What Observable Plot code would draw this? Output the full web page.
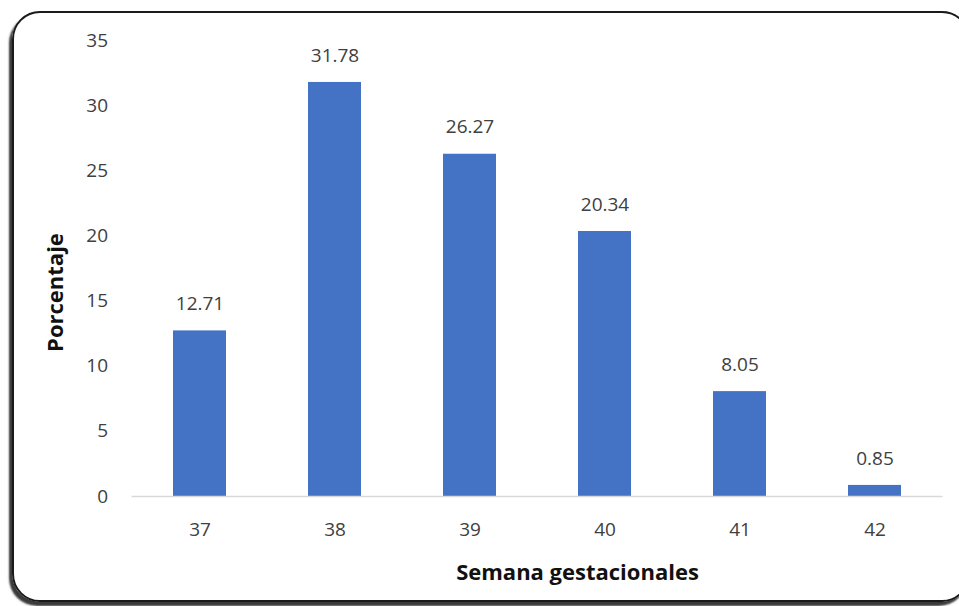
<!DOCTYPE html>
<html>
<head>
<meta charset="utf-8">
<script src="https://cdn.jsdelivr.net/npm/d3@7"></script>
<script src="https://cdn.jsdelivr.net/npm/@observablehq/plot@0.6"></script>
<style>
  html, body { margin: 0; padding: 0; background: #fff; overflow: hidden; }
  #wrap { position: relative; width: 959px; height: 606px; overflow: hidden; }
  #frame {
    position: absolute; left: 12px; top: 11px; width: 958px; height: 591px;
    border: 2px solid #1a1a1a; border-radius: 28px;
    box-shadow: -3px 4px 2px #3a3a3a;
    box-sizing: border-box;
  }
  #chart { position: absolute; left: 0; top: 0; }
</style>
</head>
<body>
<div id="wrap">
  <div id="frame"></div>
  <div id="chart"></div>
</div>
<script>
const weeks = ["37", "38", "39", "40", "41", "42"];
const percents = [12.71, 31.78, 26.27, 20.34, 8.05, 0.85];
const labels = ["12.71", "31.78", "26.27", "20.34", "8.05", "0.85"];
const yTicks = [0, 5, 10, 15, 20, 25, 30, 35];

const data = weeks.map((w, i) => ({week: w, value: percents[i], label: labels[i]}));

const font = "'Open Sans', sans-serif";
const plot = Plot.plot({
  width: 959,
  height: 606,
  marginLeft: 131.5,
  marginRight: 16.5,
  marginTop: 40,
  marginBottom: 110,
  style: {fontFamily: font, fontSize: "19px", color: "#404040", background: "transparent"},
  x: {domain: weeks, paddingInner: 0.61, paddingOuter: 0.305, label: null},
  y: {domain: [0, 35], label: null},
  marks: [
    Plot.barY(data, {x: "week", y: "value", fill: "#4472C4"}),
    Plot.ruleY([0], {stroke: "#d9d9d9", strokeWidth: 1.5}),
    Plot.axisX({tickSize: 0, tickPadding: 26, fontSize: 19, label: null}),
    Plot.axisY({ticks: yTicks, tickSize: 0, tickPadding: 24, fontSize: 19, label: null}),
    Plot.text(data, {x: "week", y: "value", text: "label", dy: -27, fontSize: 19, fill: "#404040"}),
    Plot.text(["Porcentaje"], {frameAnchor: "left", textAnchor: "middle", lineAnchor: "middle", dx: -76, dy: 24, rotate: -90, fontSize: 22, fontWeight: "bold", fill: "#111"}),
    Plot.text(["Semana gestacionales"], {frameAnchor: "bottom", textAnchor: "middle", lineAnchor: "middle", dx: 40, dy: 76, fontSize: 22, fontWeight: "bold", fill: "#111"})
  ]
});
document.getElementById("chart").appendChild(plot);
</script>
</body>
</html>
